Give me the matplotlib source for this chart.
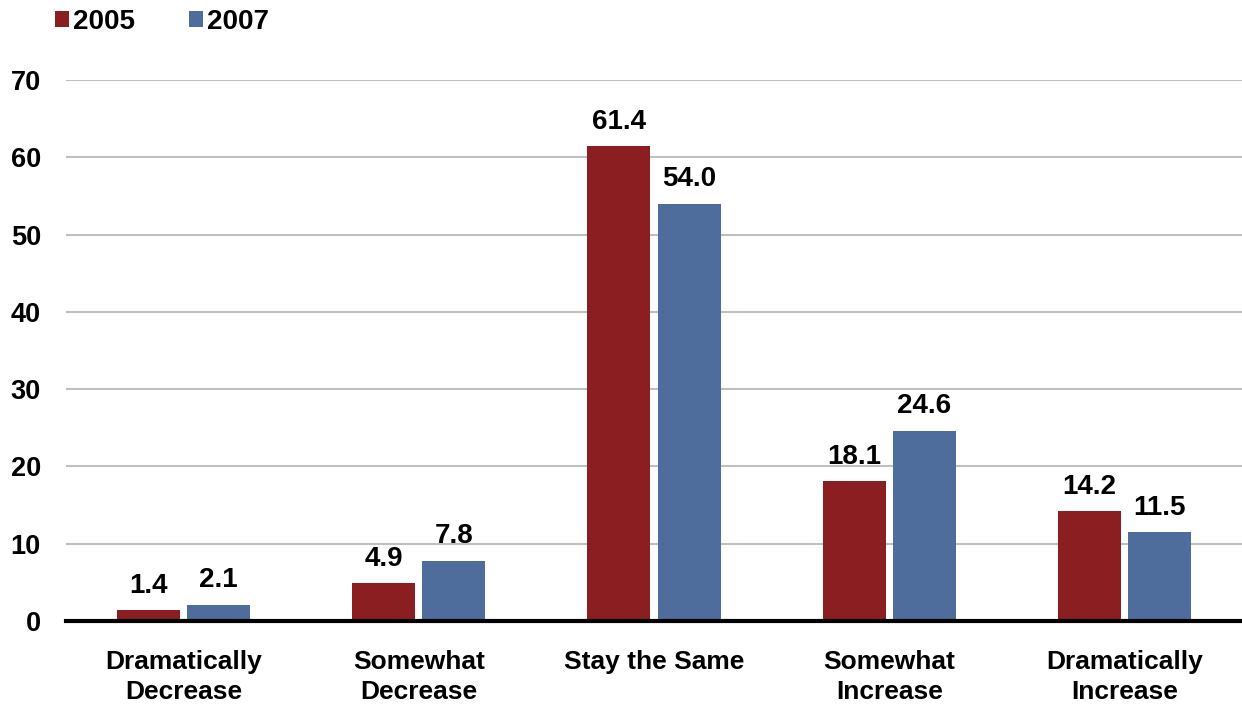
import matplotlib
matplotlib.use("Agg")
import matplotlib.pyplot as plt
from matplotlib.patches import Patch
import numpy as np

categories = ["Dramatically\nDecrease", "Somewhat\nDecrease", "Stay the Same", "Somewhat\nIncrease", "Dramatically\nIncrease"]
series_names = ["2005", "2007"]
values_2005 = [1.4, 4.9, 61.4, 18.1, 14.2]
values_2007 = [2.1, 7.8, 54.0, 24.6, 11.5]
colors = ["#8B1E21", "#4E6D9C"]
yticks = [0, 10, 20, 30, 40, 50, 60, 70]

plt.rcParams['font.family'] = ['Liberation Sans', 'DejaVu Sans']
plt.rcParams['font.weight'] = 'bold'

fig = plt.figure(figsize=(12.42, 7.06), dpi=100)
ax = fig.add_axes([66/1242, 85/706, 1176/1242, (621-80)/706])

x = np.arange(len(categories))
w = 0.268
off = 0.149
b1 = ax.bar(x - off, values_2005, width=w, color=colors[0], zorder=3)
b2 = ax.bar(x + off, values_2007, width=w, color=colors[1], zorder=3)

for bars, vals in ((b1, values_2005), (b2, values_2007)):
    for r, v in zip(bars, vals):
        ax.text(r.get_x() + r.get_width()/2, v + 1.5, f"{v:.1f}", ha='center', va='bottom',
                fontsize=20, fontweight='bold')

ax.set_xlim(-0.5, 4.5)
ax.set_ylim(0, 70)
ax.set_yticks(yticks)
ax.set_yticklabels([str(t) for t in yticks], fontsize=19.5, fontweight='bold')
ax.set_xticks(x)
ax.set_xticklabels(categories, fontsize=19, fontweight='bold', linespacing=1.3)
ax.tick_params(axis='both', length=0)
ax.tick_params(axis='y', pad=18)
ax.tick_params(axis='x', pad=21)
ax.yaxis.grid(True, color='#BFBFBF', linewidth=1.5, zorder=0)
for s in ['top', 'right', 'left']:
    ax.spines[s].set_visible(False)
ax.spines['bottom'].set_linewidth(3)
ax.spines['bottom'].set_color('black')
ax.spines['bottom'].set_zorder(4)

handles = [Patch(facecolor=c, edgecolor='none') for c in colors]
fig.legend(handles, series_names, loc='upper left', bbox_to_anchor=(0.0244, 1.023), ncol=2,
           frameon=False, prop={'size': 20, 'weight': 'bold'},
           handlelength=0.5, handleheight=0.5, handletextpad=0.15, columnspacing=1.93)

fig.savefig("out.png", dpi=100, facecolor='white')
